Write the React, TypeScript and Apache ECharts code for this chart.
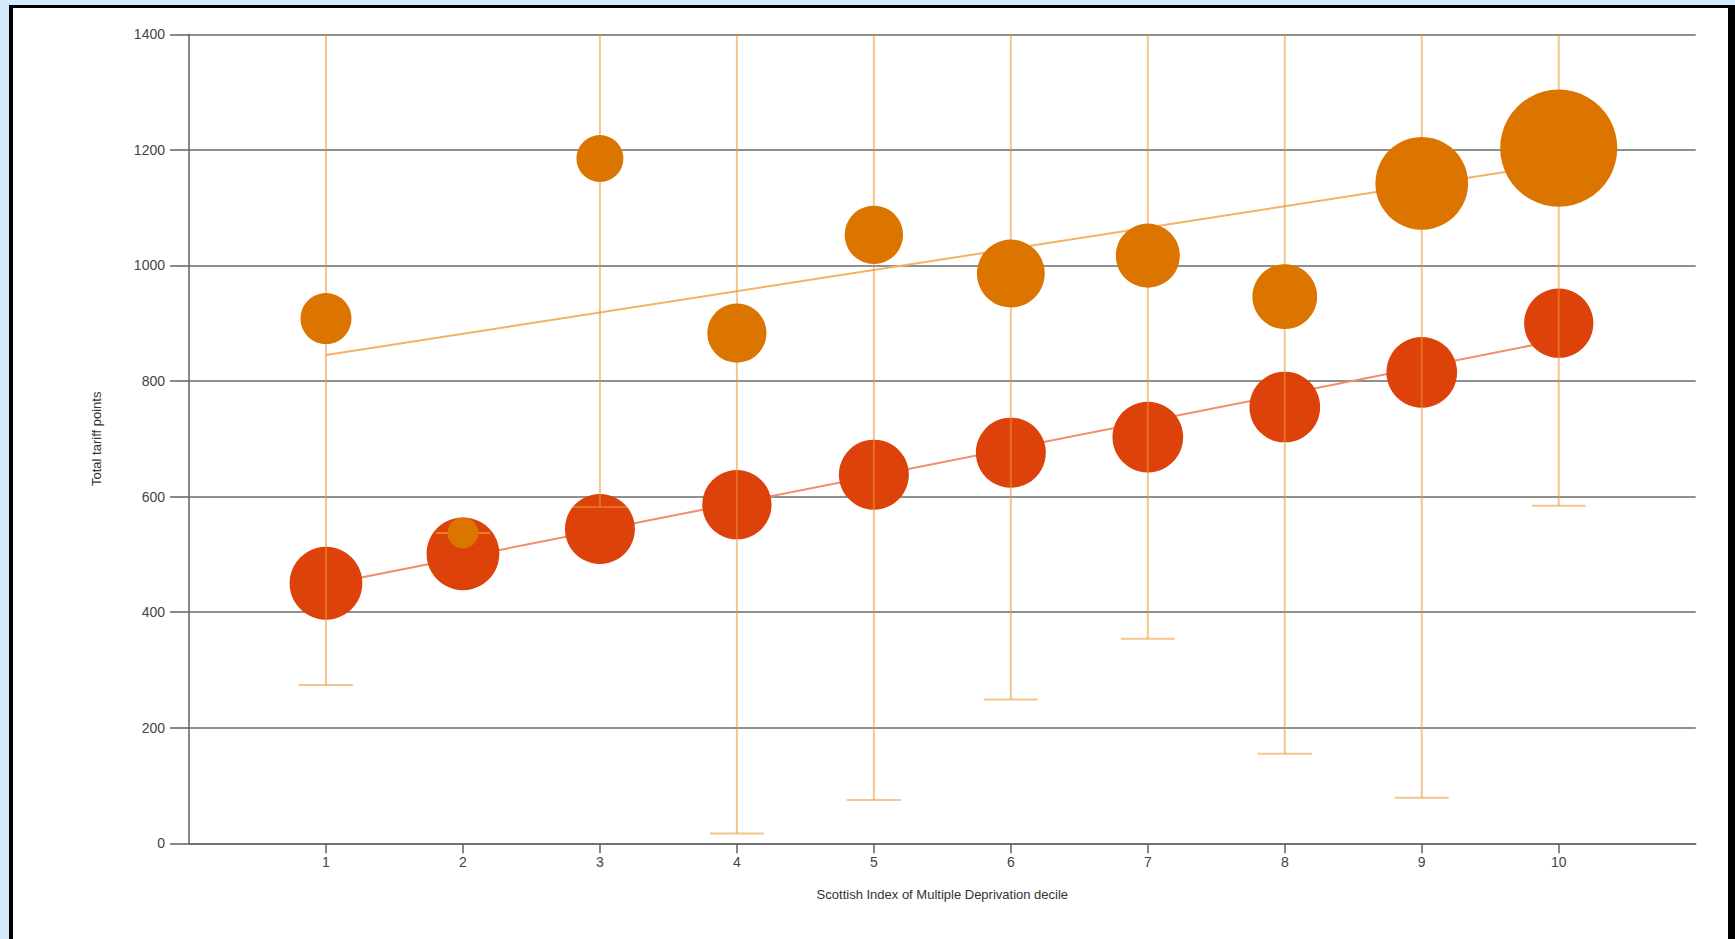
import React, { useEffect, useRef } from "react";
import * as echarts from "echarts";

// Scottish Index of Multiple Deprivation deciles
const deciles = [1, 2, 3, 4, 5, 6, 7, 8, 9, 10];

// Upper (orange) group: mean total tariff points
const orangeValues = [908, 537, 1185, 883, 1053, 986, 1017, 946, 1142, 1203];
// Relative cohort weights for the orange bubbles
const orangeWeights = [26, 9.6, 22, 35, 34, 46, 41, 42, 86, 137];

// Lower (red) group: mean total tariff points
const redValues = [450, 501, 544, 586, 638, 676, 703, 755, 815, 900];
// Relative cohort weights for the red bubbles
const redWeights = [53, 53, 49, 48, 49, 49, 50, 50, 50, 48];

// Error bars (orange group)
const errLow = [274, 537, 582, 17, 75, 249, 354, 155, 79, 584];
const errHigh = [1544, 537, 1786, 1749, 2031, 1723, 1680, 1737, 2203, 1822];

// Trend lines: value at decile 1 and decile 10
const orangeTrend = [845, 1176];
const redTrend = [448, 871];

const yTicks = [0, 200, 400, 600, 800, 1000, 1200, 1400];

const FONT = "'Liberation Sans', Arial, sans-serif";

export default function App() {
  const ref = useRef<HTMLDivElement>(null);

  useEffect(() => {
    if (!ref.current) return;
    const chart = echarts.init(ref.current, null, { renderer: "svg" });

    const orangeData = deciles.map((d, i) => [d, orangeValues[i], orangeWeights[i]]);
    const redData = deciles.map((d, i) => [d, redValues[i], redWeights[i]]);
    const errData = deciles.map((d, i) => [d, errLow[i], errHigh[i]]);
    const first = deciles[0];
    const last = deciles[deciles.length - 1];

    const gridColor = "#6a6a6a";
    const errColor = "rgba(236,150,50,0.55)";

    chart.setOption({
      animation: false,
      grid: { left: 189, top: 34.3, right: 39.3, bottom: 95.7, containLabel: false },
      xAxis: {
        type: "value",
        min: 0,
        max: 11,
        interval: 1,
        name: "Scottish Index of Multiple Deprivation decile",
        nameLocation: "middle",
        nameGap: 45,
        nameTextStyle: { fontFamily: FONT, fontSize: 13, color: "#333" },
        axisLine: { show: true, onZero: false, lineStyle: { color: gridColor, width: 1.6 } },
        axisTick: {
          show: true,
          length: 10,
          customValues: deciles,
          lineStyle: { color: gridColor, width: 1.6 },
        },
        axisLabel: {
          customValues: deciles,
          margin: 12,
          fontFamily: FONT,
          fontSize: 14,
          color: "#444",
          formatter: (v: number) => String(v),
        },
        splitLine: { show: false },
      },
      yAxis: {
        type: "value",
        min: 0,
        max: 1400,
        interval: 200,
        name: "Total tariff points",
        nameLocation: "middle",
        nameGap: 86,
        nameRotate: 90,
        nameTextStyle: { fontFamily: FONT, fontSize: 13, color: "#333" },
        axisLine: { show: true, lineStyle: { color: gridColor, width: 1.6 } },
        axisTick: {
          show: true,
          length: 19,
          customValues: yTicks,
          lineStyle: { color: gridColor, width: 1.6 },
        },
        axisLabel: {
          customValues: yTicks,
          margin: 24,
          fontFamily: FONT,
          fontSize: 14,
          color: "#444",
          formatter: (v: number) => String(v),
        },
        splitLine: { show: true, lineStyle: { color: gridColor, width: 1.6 } },
      },
      series: [
        {
          type: "line",
          z: 1,
          symbol: "none",
          data: [
            [first, orangeTrend[0]],
            [last, orangeTrend[1]],
          ],
          lineStyle: { color: "#F4B266", width: 2 },
        },
        {
          type: "line",
          z: 1,
          symbol: "none",
          data: [
            [first, redTrend[0]],
            [last, redTrend[1]],
          ],
          lineStyle: { color: "#F28A6B", width: 2 },
        },
        {
          type: "scatter",
          z: 2,
          data: redData,
          symbolSize: (v: number[]) => 10 * Math.sqrt(v[2]),
          itemStyle: { color: "#DD420A", opacity: 1 },
        },
        {
          type: "custom",
          z: 3,
          clip: true,
          data: errData,
          encode: { x: 0, y: [1, 2] },
          renderItem: (params: any, api: any) => {
            const x = api.value(0);
            const lo = api.coord([x, api.value(1)]);
            const hi = api.coord([x, api.value(2)]);
            const w = 27;
            const style = { stroke: errColor, lineWidth: 2, fill: "none" };
            return {
              type: "group",
              children: [
                { type: "line", shape: { x1: lo[0], y1: hi[1], x2: lo[0], y2: lo[1] }, style },
                { type: "line", shape: { x1: lo[0] - w, y1: lo[1], x2: lo[0] + w, y2: lo[1] }, style },
                { type: "line", shape: { x1: hi[0] - w, y1: hi[1], x2: hi[0] + w, y2: hi[1] }, style },
              ],
            };
          },
        },
        {
          type: "scatter",
          z: 4,
          data: orangeData,
          symbolSize: (v: number[]) => 10 * Math.sqrt(v[2]),
          itemStyle: { color: "#DB7500", opacity: 1 },
        },
      ],
    });

    return () => chart.dispose();
  }, []);

  return (
    <div
      style={{
        position: "fixed",
        left: 0,
        top: 0,
        width: 1735,
        height: 939,
        background: "#D5EBFB",
        overflow: "hidden",
      }}
    >
      <div
        style={{
          position: "absolute",
          left: 9,
          top: 5,
          width: 1726,
          height: 950,
          boxSizing: "border-box",
          borderLeft: "4px solid #000",
          borderTop: "3.5px solid #000",
          borderRight: "7px solid #000",
          background: "#fff",
        }}
      />
      <div
        ref={ref}
        style={{ position: "absolute", left: 0, top: 0, width: 1735, height: 939 }}
      />
    </div>
  );
}
